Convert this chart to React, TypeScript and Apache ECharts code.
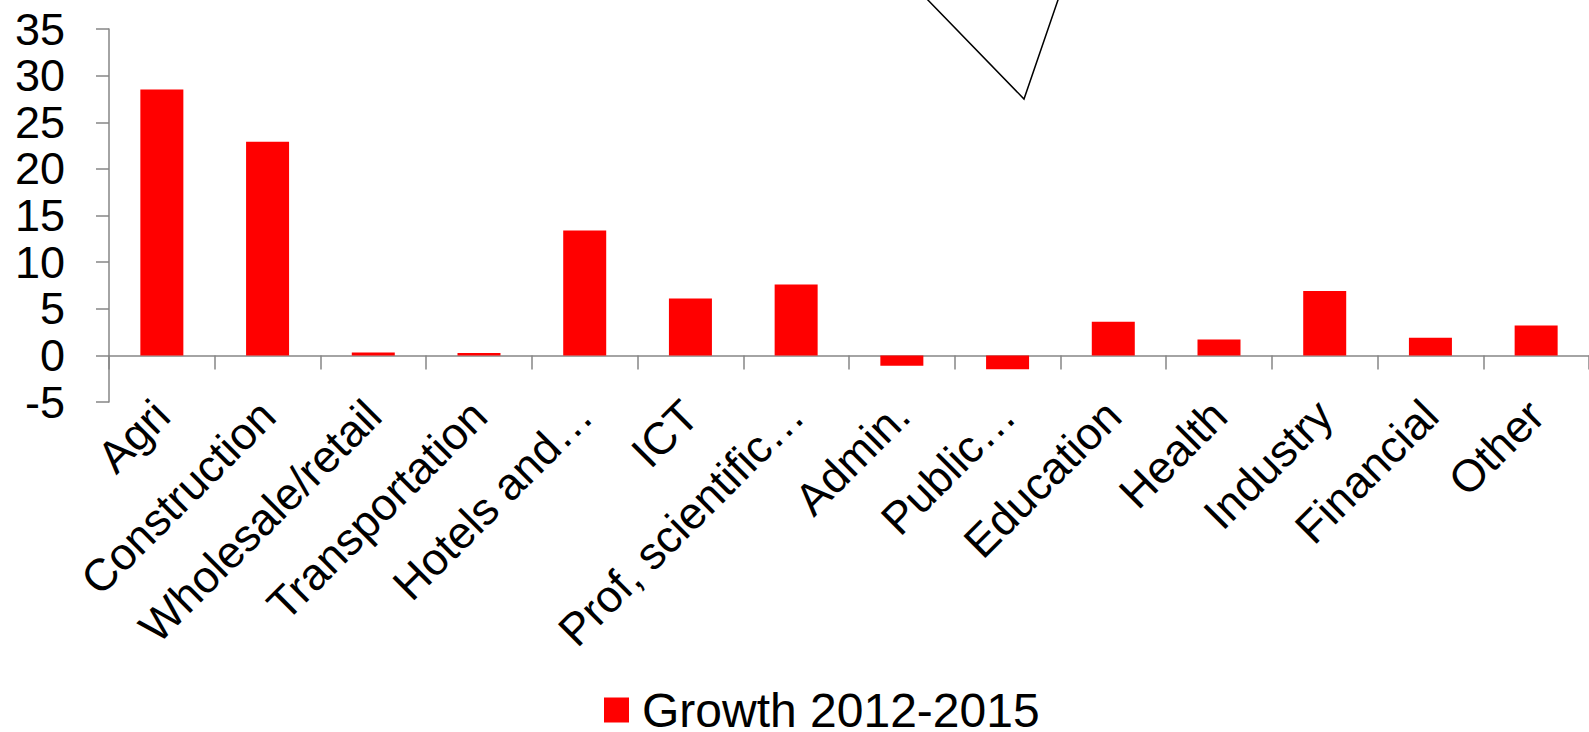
import React, { useEffect, useRef } from "react";
import * as echarts from "echarts";

const categories = [
  "Agri",
  "Construction",
  "Wholesale/retail",
  "Transportation",
  "Hotels and…",
  "ICT",
  "Prof, scientific…",
  "Admin.",
  "Public…",
  "Education",
  "Health",
  "Industry",
  "Financial",
  "Other",
];
const growth = [28.5, 22.9, 0.3, 0.25, 13.4, 6.1, 7.6, -1.1, -1.5, 3.6, 1.7, 6.9, 1.9, 3.2];
const seriesName = "Growth 2012-2015";
const yMin = -5;
const yMax = 35;
const yStep = 5;

export default function App() {
  const ref = useRef<HTMLDivElement>(null);
  useEffect(() => {
    if (!ref.current) return;
    const chart = echarts.init(ref.current, null, { renderer: "svg" });
    const font = "'Liberation Sans', Arial, sans-serif";
    chart.setOption({
      animation: false,
      backgroundColor: "#ffffff",
      textStyle: { fontFamily: font },
      grid: { left: 109, top: 29, bottom: 330, right: -12, containLabel: false },
      legend: {
        data: [seriesName],
        left: 604,
        top: 686,
        padding: 0,
        itemWidth: 25,
        itemHeight: 25,
        itemGap: 10,
        icon: "rect",
        textStyle: {
          fontSize: 48,
          lineHeight: 44,
          color: "#000",
          fontFamily: font,
          padding: [0, 0, 0, 8],
        },
      },
      xAxis: {
        type: "category",
        data: categories,
        axisLine: { onZero: true, lineStyle: { color: "#868686", width: 1.5 } },
        axisTick: { show: true, length: 14, alignWithLabel: false, lineStyle: { color: "#868686", width: 1.5 } },
        axisLabel: {
          interval: 0,
          rotate: 45,
          margin: 6,
          fontSize: 45,
          color: "#000",
          fontFamily: font,
        },
        splitLine: { show: false },
      },
      yAxis: {
        type: "value",
        min: yMin,
        max: yMax,
        interval: yStep,
        axisLine: { show: true, lineStyle: { color: "#868686", width: 1.5 } },
        axisTick: { show: true, length: 13, lineStyle: { color: "#868686", width: 1.5 } },
        axisLabel: { fontSize: 45, color: "#000", margin: 44, fontFamily: font },
        splitLine: { show: false },
      },
      series: [
        {
          name: seriesName,
          type: "bar",
          data: growth,
          barWidth: 43,
          itemStyle: { color: "#ff0000" },
        },
      ],
      graphic: [
        {
          type: "polyline",
          shape: { points: [[925, -3], [1024, 99], [1059, -3]] },
          style: { stroke: "#000", lineWidth: 1.5, fill: "none" },
          z: 100,
        },
      ],
    });
    return () => chart.dispose();
  }, []);
  return (
    <div
      ref={ref}
      style={{ position: "fixed", left: 0, top: 0, width: 1589, height: 732 }}
    />
  );
}
